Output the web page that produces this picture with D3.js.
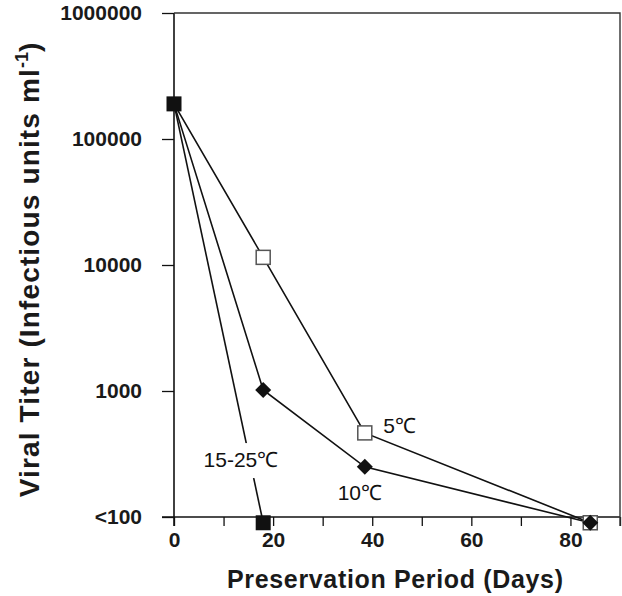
<!DOCTYPE html>
<html>
<head>
<meta charset="utf-8">
<script src="https://cdn.jsdelivr.net/npm/d3@7"></script>
<style>
body { margin: 0; background: #fff; }
svg { display: block; font-family: "Liberation Sans", Arial, sans-serif; }
</style>
</head>
<body>
<svg id="chart" width="622" height="596"></svg>
<script>
// values; "<100" is drawn at 90
let days5 = [0, 18, 38.5, 84];
let titer5 = [190000, 11500, 465, 90];
let days10 = [0, 18, 38.5, 84];
let titer10 = [190000, 1020, 250, 90];
let days1525 = [0, 18];
let titer1525 = [190000, 90];
let yTicks = [100, 1000, 10000, 100000, 1000000];
let yTickLabels = ["<100", "1000", "10000", "100000", "1000000"];
let xTicks = [0, 10, 20, 30, 40, 50, 60, 70, 80, 90];
let xTickLabels = ["0", "", "20", "", "40", "", "60", "", "80", ""];

let margin = {top: 13, right: 2, bottom: 79, left: 174};
let svg = d3.select("#chart");
let width = +svg.attr("width");
let height = +svg.attr("height");

let x = d3.scaleLinear()
	.domain([0, 90])
	.range([margin.left, width - margin.right]);
let y = d3.scaleLog()
	.domain([100, 1000000])
	.range([height - margin.bottom, margin.top]);

// x axis
let xAxis = svg.append("g")
	.attr("transform", `translate(0,${y(100)})`)
	.call(d3.axisBottom(x).tickValues(xTicks).tickSize(9).tickPadding(6)
		.tickFormat((d, i) => xTickLabels[i]));
xAxis.select(".domain").attr("d", `M${margin.left - 12},0H${x(90)}`);
xAxis.selectAll("line").attr("stroke", "#111").attr("stroke-width", 1.3);
xAxis.select(".domain").attr("stroke", "#111").attr("stroke-width", 1.6);
xAxis.selectAll("text").attr("font-size", 21).attr("font-weight", "bold").attr("fill", "#1a1a1a");

// y axis
let yAxis = svg.append("g")
	.attr("transform", `translate(${margin.left},0)`)
	.call(d3.axisLeft(y).tickValues(yTicks).tickSize(12).tickPadding(20)
		.tickFormat((d, i) => yTickLabels[i]));
yAxis.select(".domain").attr("d", `M0,${y(1000000)}V${y(100) + 9}`);
yAxis.selectAll("line").attr("stroke", "#111").attr("stroke-width", 1.3);
yAxis.select(".domain").attr("stroke", "#111").attr("stroke-width", 1.6);
yAxis.selectAll("text").attr("font-size", 21).attr("font-weight", "bold").attr("fill", "#1a1a1a");

// frame top and right
svg.append("path")
	.attr("d", `M${margin.left},${y(1000000)}H${x(90)}V${y(100) + 9}`)
	.attr("fill", "none")
	.attr("stroke", "#333")
	.attr("stroke-width", 1.4);

let line = d3.line().x(d => x(d[0])).y(d => y(d[1]));
let series = [
	d3.zip(days5, titer5),
	d3.zip(days10, titer10),
	d3.zip(days1525, titer1525)
];
svg.append("g")
	.selectAll("path")
	.data(series)
	.join("path")
	.attr("d", line)
	.attr("fill", "none")
	.attr("stroke", "#111")
	.attr("stroke-width", 1.6);

// labels on white so the 15-25 line breaks under its label
let labels = [
	{t: "15-25℃", day: 13.5, v: 283},
	{t: "5℃", day: 45.5, v: 527},
	{t: "10℃", day: 37.5, v: 155}
];
let lab = svg.append("g")
	.selectAll("g")
	.data(labels)
	.join("g")
	.attr("transform", d => `translate(${x(d.day)},${y(d.v)})`);
lab.append("rect")
	.attr("x", -44).attr("y", -17).attr("width", 88).attr("height", 35)
	.attr("fill", "#fff")
	.attr("opacity", (d, i) => i == 0 ? 1 : 0);
lab.append("text")
	.attr("text-anchor", "middle")
	.attr("dy", "0.35em")
	.attr("font-size", 21)
	.attr("fill", "#111")
	.text(d => d.t);

// markers
let sq = 14;
svg.append("g")
	.selectAll("rect")
	.data(d3.zip(days5, titer5).slice(1))
	.join("rect")
	.attr("x", d => x(d[0]) - sq / 2)
	.attr("y", d => y(d[1]) - sq / 2)
	.attr("width", sq).attr("height", sq)
	.attr("fill", "#fff")
	.attr("stroke", "#555")
	.attr("stroke-width", 1.5);
svg.append("g")
	.selectAll("path")
	.data(d3.zip(days10, titer10).slice(1))
	.join("path")
	.attr("transform", d => `translate(${x(d[0])},${y(d[1])})`)
	.attr("d", "M0,-8L8,0L0,8L-8,0Z")
	.attr("fill", "#111");
svg.append("g")
	.selectAll("rect")
	.data(d3.zip(days1525, titer1525))
	.join("rect")
	.attr("x", d => x(d[0]) - 7.5)
	.attr("y", d => y(d[1]) - 7.5)
	.attr("width", 15).attr("height", 15)
	.attr("fill", "#111");

// axis titles
svg.append("text")
	.attr("x", 395)
	.attr("y", 588)
	.attr("text-anchor", "middle")
	.attr("font-size", 25)
	.attr("font-weight", "bold")
	.attr("fill", "#1a1a1a")
	.attr("textLength", 336)
	.text("Preservation Period (Days)");
let yt = svg.append("text")
	.attr("transform", `translate(39,270) rotate(-90)`)
	.attr("text-anchor", "middle")
	.attr("font-size", 28)
	.attr("font-weight", "bold")
	.attr("fill", "#1a1a1a");
yt.append("tspan").attr("textLength", 428).text("Viral Titer (Infectious units ml");
yt.append("tspan").attr("font-size", 18).attr("dy", -11).text("-1");
yt.append("tspan").attr("dy", 11).text(")");
</script>
</body>
</html>
